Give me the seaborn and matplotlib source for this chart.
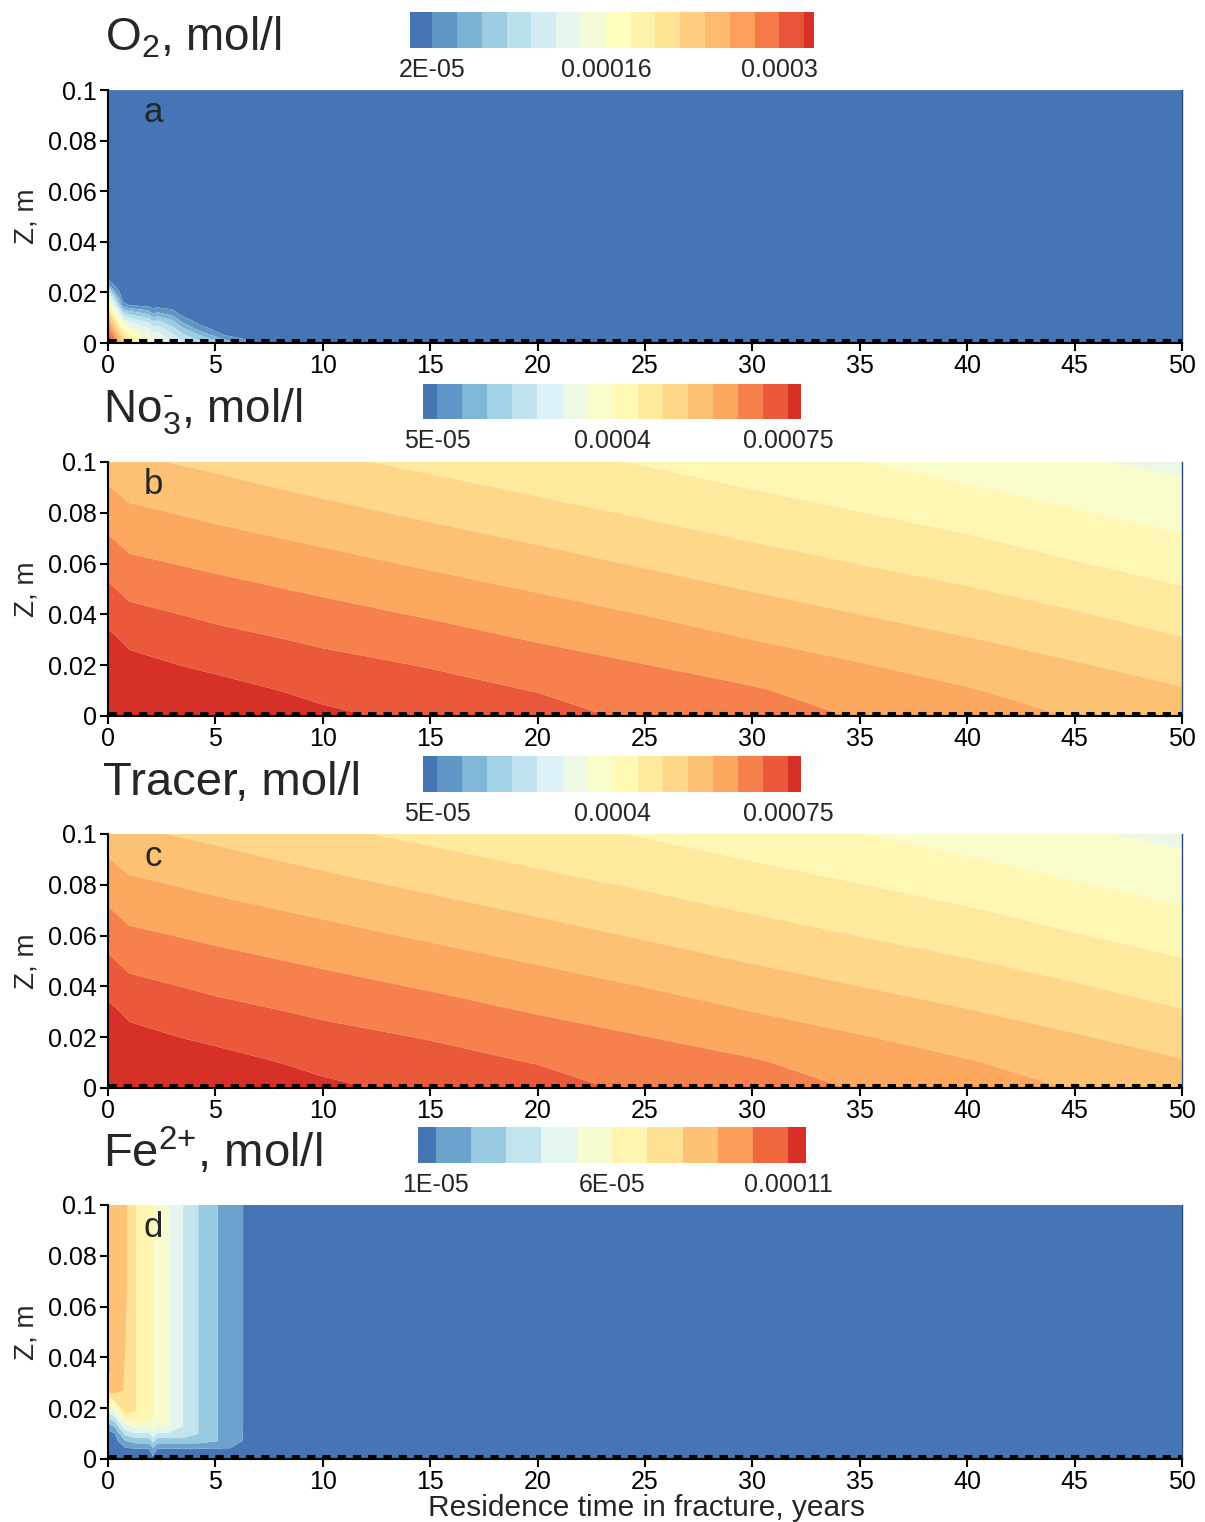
import numpy as np
import matplotlib
matplotlib.use('Agg')
import matplotlib.pyplot as plt
import seaborn as sns
from matplotlib.colors import ListedColormap, BoundaryNorm, LinearSegmentedColormap
from matplotlib.cm import ScalarMappable

SCALE = 1e-5

# ---- O2 (panel a) ----
o2_t = [0, 0.3, 0.7, 1.0, 1.5, 1.9, 2.1, 2.3, 3.0, 3.5, 4.3, 5.4, 6.3, 7.0, 50]
o2_z = [0, 0.003, 0.006, 0.009, 0.012, 0.015, 0.018, 0.021, 0.024, 0.027, 0.1]
# one list per time column, bottom to top
o2_cols = [
    [32.6, 31.5, 29.0, 26.0, 23.0, 19.0, 14.0, 9.0, 3.0, 0.8, 0.2],
    [29.0, 27.5, 24.5, 21.0, 17.0, 12.5, 8.0, 3.5, 1.0, 0.5, 0.2],
    [24.0, 21.0, 17.5, 13.5, 8.5, 3.0, 0.8, 0.4, 0.3, 0.2, 0.2],
    [21.0, 18.5, 15.0, 11.5, 7.0, 1.9, 0.6, 0.3, 0.2, 0.2, 0.2],
    [17.5, 15.5, 13.0, 10.0, 6.0, 1.5, 0.5, 0.3, 0.2, 0.2, 0.2],
    [16.0, 14.5, 12.0, 9.0, 5.0, 1.3, 0.5, 0.3, 0.2, 0.2, 0.2],
    [14.5, 13.0, 10.5, 7.5, 3.5, 1.0, 0.4, 0.3, 0.2, 0.2, 0.2],
    [14.5, 13.0, 10.8, 8.0, 4.2, 1.1, 0.4, 0.3, 0.2, 0.2, 0.2],
    [12.0, 10.5, 8.5, 6.0, 2.8, 0.9, 0.4, 0.3, 0.2, 0.2, 0.2],
    [10.5, 8.5, 6.0, 3.0, 1.0, 0.5, 0.3, 0.2, 0.2, 0.2, 0.2],
    [8.5, 6.0, 2.6, 1.0, 0.5, 0.3, 0.2, 0.2, 0.2, 0.2, 0.2],
    [6.0, 2.1, 0.8, 0.5, 0.3, 0.2, 0.2, 0.2, 0.2, 0.2, 0.2],
    [3.0, 1.2, 0.5, 0.3, 0.2, 0.2, 0.2, 0.2, 0.2, 0.2, 0.2],
    [1.5, 0.6, 0.3, 0.2, 0.2, 0.2, 0.2, 0.2, 0.2, 0.2, 0.2],
    [0.2, 0.2, 0.2, 0.2, 0.2, 0.2, 0.2, 0.2, 0.2, 0.2, 0.2],
]
o2_range = [0.19, 32.8]
o2_step = 2
o2_ticks = [2, 16, 30]
o2_ticklabels = ['2E-05', '0.00016', '0.0003']

# ---- NO3- (panel b) ----
no3_t = [0, 1, 5, 10, 15, 20, 25, 30, 35, 40, 45, 50]
no3_z = [0, 0.01, 0.02, 0.03, 0.04, 0.05, 0.06, 0.07, 0.08, 0.09, 0.1]
no3_cols = [
    [78.0, 77.5, 76.8, 76.0, 73.6, 70.8, 68.1, 65.4, 62.8, 60.2, 57.7],
    [77.8, 77.2, 76.2, 74.2, 71.4, 68.6, 66.0, 63.4, 61.0, 58.4, 55.8],
    [78.3, 76.6, 74.1, 71.6, 69.0, 66.5, 64.0, 61.4, 58.9, 56.4, 53.9],
    [75.9, 73.9, 71.6, 69.2, 66.7, 64.2, 61.6, 59.1, 56.5, 53.8, 51.1],
    [73.8, 71.9, 69.7, 67.1, 64.5, 61.9, 59.3, 56.7, 54.0, 51.4, 48.7],
    [72.3, 69.8, 67.3, 64.7, 62.2, 59.6, 56.9, 54.3, 51.6, 49.1, 46.6],
    [68.8, 66.9, 65.1, 62.5, 59.9, 57.2, 54.5, 51.9, 49.4, 47.0, 44.6],
    [68.2, 65.5, 62.8, 60.0, 57.4, 54.7, 52.2, 49.6, 47.2, 44.8, 42.5],
    [64.5, 62.6, 60.3, 57.6, 55.0, 52.4, 49.9, 47.5, 45.1, 42.6, 40.2],
    [62.9, 60.4, 57.8, 55.3, 52.8, 50.3, 47.8, 45.4, 42.8, 40.3, 37.7],
    [59.7, 57.6, 55.4, 52.9, 50.4, 47.9, 45.3, 42.9, 40.4, 38.0, 35.7],
    [57.6, 55.4, 52.9, 50.3, 47.8, 45.3, 42.8, 40.4, 38.1, 35.9, 33.6],
]
no3_range = [2.2, 77.5]
no3_step = 5
no3_ticks = [5, 40, 75]
no3_ticklabels = ['5E-05', '0.0004', '0.00075']

# ---- tracer (panel c) reads the same as panel b ----
tracer_t = list(no3_t)
tracer_z = list(no3_z)
tracer_cols = [list(c) for c in no3_cols]
tracer_range = [2.2, 77.5]
tracer_step = 5
tracer_ticks = [5, 40, 75]
tracer_ticklabels = ['5E-05', '0.0004', '0.00075']

# ---- Fe2+ (panel d) ----
fe_t = [0, 0.3, 0.8, 1.3, 1.9, 2.1, 2.3, 2.85, 3.5, 4.2, 5.1, 5.7, 6.25, 6.45, 50]
fe_z = [0, 0.004, 0.007, 0.010, 0.013, 0.016, 0.019, 0.023, 0.027, 0.035, 0.045, 0.07, 0.1]
fe_cols = [
    [0.6, 0.6, 0.65, 0.7, 1.45, 2.9, 4.35, 6.3, 8.3, 9.2, 9.0, 8.7, 8.7],
    [0.55, 0.55, 0.55, 0.9, 2.15, 3.6, 5.05, 7.05, 8.5, 8.6, 8.6, 8.5, 8.5],
    [0.5, 0.85, 1.9, 3.35, 4.8, 6.3, 7.6, 7.85, 7.9, 7.95, 8.05, 8.25, 8.25],
    [0.5, 0.95, 2.4, 3.85, 5.3, 6.8, 7.0, 7.0, 7.0, 7.0, 7.0, 7.0, 7.0],
    [0.5, 0.95, 2.4, 3.85, 5.3, 6.25, 6.25, 6.25, 6.25, 6.25, 6.25, 6.25, 6.25],
    [0.7, 1.8, 3.27, 4.7, 6.0, 6.0, 6.0, 6.0, 6.0, 6.0, 6.0, 6.0, 6.0],
    [0.5, 0.95, 2.4, 3.85, 5.3, 5.75, 5.75, 5.75, 5.75, 5.75, 5.75, 5.75, 5.75],
    [0.5, 0.95, 2.4, 3.85, 5.0, 5.0, 5.0, 5.0, 5.0, 5.0, 5.0, 5.0, 5.0],
    [0.5, 0.95, 2.4, 3.85, 4.0, 4.0, 4.0, 4.0, 4.0, 4.0, 4.0, 4.0, 4.0],
    [0.5, 0.95, 2.4, 3.0, 3.0, 3.0, 3.0, 3.0, 3.0, 3.0, 3.0, 3.0, 3.0],
    [0.5, 0.95, 2.0, 2.0, 2.0, 2.0, 2.0, 2.0, 2.0, 2.0, 2.0, 2.0, 2.0],
    [0.5, 0.95, 1.5, 1.5, 1.5, 1.5, 1.5, 1.5, 1.5, 1.5, 1.5, 1.5, 1.5],
    [0.5, 0.9, 1.0, 1.05, 1.1, 1.1, 1.1, 1.1, 1.1, 1.1, 1.1, 1.1, 1.1],
    [0.5, 0.55, 0.6, 0.6, 0.6, 0.6, 0.6, 0.6, 0.6, 0.6, 0.6, 0.6, 0.6],
    [0.5, 0.5, 0.5, 0.5, 0.5, 0.5, 0.5, 0.5, 0.5, 0.5, 0.5, 0.5, 0.5],
]
fe_range = [0.5, 11.5]
fe_step = 1
fe_ticks = [1, 6, 11]
fe_ticklabels = ['1E-05', '6E-05', '0.00011']

fracture_z = 0.0012  # dashed line just above the fracture wall

sns.set_theme(style='ticks')
plt.rcParams['font.family'] = ['Liberation Sans', 'DejaVu Sans']
plt.rcParams['mathtext.default'] = 'regular'

# blue-yellow-red ramp, spread a little so the warm half stays lighter
ramp = LinearSegmentedColormap.from_list(
    'ryb', [(0.0, '#4575b4'), (0.11, '#74add1'), (0.22, '#abd9e9'),
            (0.34, '#e0f3f8'), (0.5, '#ffffbf'), (0.64, '#fee090'),
            (0.79, '#fdae61'), (0.9, '#f46d43'), (1.0, '#d73027')])


def edges_for(rng, step):
    inner = list(np.arange(step, rng[1], step))
    inner = [v for v in inner if rng[0] < v < rng[1]]
    return np.array([rng[0]] + inner + [rng[1]]) * SCALE


def draw_panel(ax, cax, t, z, cols, rng, step, ticks, ticklabels, letter):
    edges = edges_for(rng, step)
    colors = ramp(np.linspace(0, 1, len(edges) - 1))
    conc = np.clip(np.array(cols).T * SCALE, edges[0], edges[-1] * 0.9999)
    ax.contourf(t, z, conc, levels=edges, colors=colors, antialiased=True)
    ax.axhline(fracture_z, color='black', lw=2.2, ls=(0, (2.7, 2.3)))
    ax.set_xlim(0, 50)
    ax.set_ylim(0, 0.1)
    ax.set_xticks(range(0, 51, 5))
    ax.set_yticks([0, 0.02, 0.04, 0.06, 0.08, 0.1])
    ax.set_yticklabels(['0', '0.02', '0.04', '0.06', '0.08', '0.1'])
    ax.tick_params(length=6, width=1.5, colors='black', labelsize=18, pad=2)
    sns.despine(ax=ax)
    for s in ['left', 'bottom']:
        ax.spines[s].set_linewidth(1.5)
        ax.spines[s].set_color('black')
    # thin dark edge where the model domain ends
    ax.spines['right'].set_visible(True)
    ax.spines['right'].set_color('#2f4b7c')
    ax.spines['right'].set_linewidth(1.0)
    ax.set_ylabel('Z, m', fontsize=20, labelpad=6)
    ax.text(2.1, 0.0875, letter, fontsize=25, ha='center', va='baseline')

    sm = ScalarMappable(norm=BoundaryNorm(edges, len(colors)),
                        cmap=ListedColormap(colors))
    cb = fig.colorbar(sm, cax=cax, orientation='horizontal',
                      spacing='proportional',
                      ticks=[v * SCALE for v in ticks])
    cb.set_ticklabels(ticklabels)
    cb.minorticks_off()
    cb.outline.set_visible(False)
    cax.tick_params(which='both', length=0, labelsize=18, pad=7)


fig = plt.figure(figsize=(12.05, 15.22), dpi=100)

ax_a = fig.add_axes([0.0896, 0.7746, 0.8913, 0.1662])
ax_b = fig.add_axes([0.0896, 0.5296, 0.8913, 0.1669])
ax_c = fig.add_axes([0.0896, 0.2852, 0.8913, 0.1669])
ax_d = fig.add_axes([0.0896, 0.0414, 0.8913, 0.1669])

cax_a = fig.add_axes([0.3402, 0.9685, 0.3353, 0.0237])
cax_b = fig.add_axes([0.3510, 0.7247, 0.3137, 0.0230])
cax_c = fig.add_axes([0.3510, 0.4796, 0.3137, 0.0237])
cax_d = fig.add_axes([0.3469, 0.2359, 0.3220, 0.0237])

draw_panel(ax_a, cax_a, o2_t, o2_z, o2_cols, o2_range, o2_step,
           o2_ticks, o2_ticklabels, 'a')
draw_panel(ax_b, cax_b, no3_t, no3_z, no3_cols, no3_range, no3_step,
           no3_ticks, no3_ticklabels, 'b')
draw_panel(ax_c, cax_c, tracer_t, tracer_z, tracer_cols, tracer_range,
           tracer_step, tracer_ticks, tracer_ticklabels, 'c')
draw_panel(ax_d, cax_d, fe_t, fe_z, fe_cols, fe_range, fe_step,
           fe_ticks, fe_ticklabels, 'd')

fig.text(0.5365, 0.0039, 'Residence time in fracture, years',
         fontsize=21.5, ha='center', va='baseline')

fig.text(0.0871, 0.9671, r'O$_2$, mol/l', fontsize=33, va='baseline')
fig.text(0.0855, 0.7221, r'No$_3^{‐}$, mol/l', fontsize=33, va='baseline')
fig.text(0.0855, 0.4777, 'Tracer, mol/l', fontsize=34, va='baseline')
fig.text(0.0855, 0.2332, r'Fe$^{2{+}}$, mol/l', fontsize=34, va='baseline')

fig.savefig('out.png', dpi=100)
